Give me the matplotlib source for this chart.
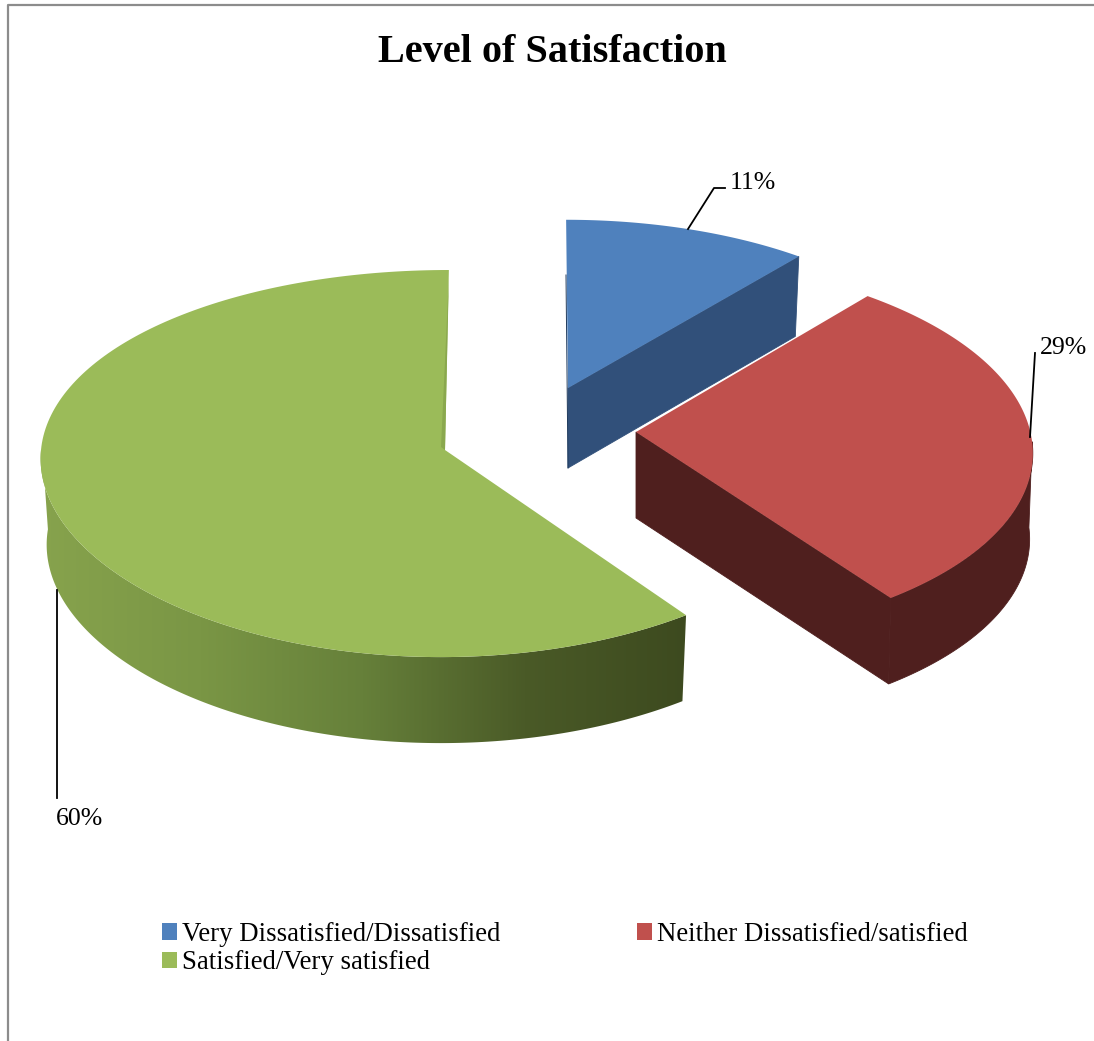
import numpy as np
import matplotlib.pyplot as plt
from matplotlib.colors import LinearSegmentedColormap
from matplotlib.patches import Patch, Polygon

plt.rcParams['font.family'] = ['Liberation Serif', 'DejaVu Serif']

categories = ['Very Dissatisfied/Dissatisfied', 'Neither Dissatisfied/satisfied', 'Satisfied/Very satisfied']
values = [11, 29, 60]
labels = ['11%', '29%', '60%']
top_colors = ['#4F81BD', '#C0504D', '#9BBB59']
side_colors = ['#31507A', '#4F1F1E', '#7A9645']

PERSP = 0.07


class Slice3D:
    """One exploded slice: tilted top face plus a dropped bottom face."""

    def __init__(self, ax, center, radius, squash, depth, px=PERSP, shear=0.0, lift=0.0, shrink=0.985):
        self.ax = ax
        self.center = center
        self.radius = radius
        self.squash = squash
        self.depth = depth
        self.px = px
        self.shear = shear
        self.lift = lift
        self.shrink = shrink

    def project(self, theta):
        # theta in degrees, clockwise from 12 o'clock
        t = np.radians(theta)
        u, v = np.sin(t), np.cos(t)
        wx = 1 + self.px * v
        wy = 1 + PERSP * v
        x = self.center[0] + (self.radius * u + self.shear * v) / wx
        y = self.center[1] + self.lift - self.squash * v / wy
        return x, y

    def drop(self, x, y):
        return self.center[0] + (np.asarray(x) - self.center[0]) * self.shrink, np.asarray(y) + self.depth

    def top_face(self, a0, a1, color, z=3):
        x, y = self.project(np.linspace(a0, a1, 200))
        self.ax.fill(np.r_[self.center[0], x], np.r_[self.center[1], y], color=color, lw=0, zorder=z)

    def rim_outline(self, a0, a1):
        x, y = self.project(np.linspace(a0, a1, 200))
        xb, yb = self.drop(x, y)
        return np.column_stack([np.r_[x, xb[::-1]], np.r_[y, yb[::-1]]])

    def rim(self, a0, a1, color, z=2):
        pts = self.rim_outline(a0, a1)
        self.ax.fill(pts[:, 0], pts[:, 1], color=color, lw=0.6, zorder=z)

    def cut_face(self, a, color, z=2):
        x, y = self.project(a)
        xb, yb = self.drop(x, y)
        cxb, cyb = self.drop(self.center[0], self.center[1])
        self.ax.fill([self.center[0], x, xb, cxb], [self.center[1], y, yb, cyb], color=color, lw=0.6, zorder=z)


fig = plt.figure(figsize=(10.94, 10.41), dpi=100, facecolor='white')
ax = fig.add_axes([0, 0, 1, 1])

# slice angles come from the values
edges = np.r_[0, np.cumsum(values)] * 3.6

# outer frame, only top and left are inside the crop
ax.plot([8, 8, 1094], [1041, 5, 5], color='#8C8C8C', lw=1.6, zorder=1)

# green slice, its rim fades from left to right
green = Slice3D(ax, (445, 450), 404, 192.6, 86, px=0.035, shear=4)
shade = LinearSegmentedColormap.from_list('rim', ['#87A34D', '#7A9645', '#66803A', '#4A5A27', '#3D4A1F'])
img = ax.imshow(np.linspace(0, 1, 256)[None, :], cmap=shade, extent=(38, 688, 760, 450), aspect='auto', zorder=2)
img.set_clip_path(Polygon(green.rim_outline(edges[2], 272), transform=ax.transData))
green.top_face(edges[2], edges[3], top_colors[2])
px, py = green.project(edges[3])
ax.fill([px, 445, 441], [py + 8, 450, 447], color='#8AA84E', lw=0, zorder=4)

# blue slice
blue = Slice3D(ax, (568, 388), 384, 180, 80, shear=-2)
blue.cut_face(edges[1], side_colors[0])
blue.top_face(edges[0], edges[1], top_colors[0])
ax.plot([566, 568], [275, 468], color='#1F3A5C', lw=0.7, zorder=4)

# red slice
red = Slice3D(ax, (636, 432), 395, 190, 86, shear=-10, lift=3, shrink=0.992)
red.cut_face(edges[2], side_colors[1])
red.rim(92, edges[2], side_colors[1])
red.top_face(edges[1], edges[2], top_colors[1])

# leader lines and value labels
ax.plot([688, 714, 725], [229, 188, 188], color='black', lw=1.3, zorder=5)
ax.plot([1030, 1035], [437, 353], color='black', lw=1.3, zorder=5)
ax.plot([57, 57], [590, 798], color='black', lw=1.3, zorder=5)
ax.text(730, 183, labels[0], fontsize=18.5, ha='left', va='center', zorder=6)
ax.text(1040, 348, labels[1], fontsize=18.5, ha='left', va='center', zorder=6)
ax.text(56, 819, labels[2], fontsize=18.5, ha='left', va='center', zorder=6)

ax.text(552.5, 53, 'Level of Satisfaction', fontsize=29, fontweight='bold', ha='center', va='center')

ax.set_xlim(0, 1094)
ax.set_ylim(1041, 0)
ax.axis('off')

handles = [Patch(color=c, lw=0) for c in top_colors]
order = [0, 2, 1]
fig.legend([handles[i] for i in order], [categories[i] for i in order], ncol=2, frameon=False,
           loc='upper left', bbox_to_anchor=(162 / 1094, 1 - 922 / 1041), fontsize=19.3,
           borderpad=0, borderaxespad=0, handlelength=0.55, handleheight=0.55,
           handletextpad=0.2, columnspacing=5.1, labelspacing=0.12)

fig.savefig('out.png', dpi=100)
